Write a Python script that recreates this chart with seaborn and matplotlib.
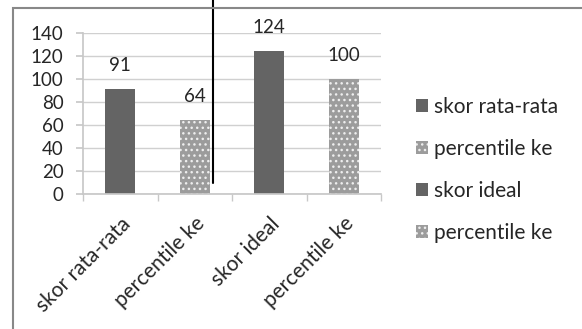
import matplotlib
matplotlib.use("Agg")
import matplotlib.pyplot as plt
import seaborn as sns
import pandas as pd
from matplotlib.patches import Rectangle

categories = ["skor rata-rata", "percentile ke", "skor ideal", "percentile ke"]
values = [91, 64, 124, 100]
bar_colors = ["#646464", "#9c9c9c", "#646464", "#9c9c9c"]
patterned = [False, True, False, True]
yticks = [0, 20, 40, 60, 80, 100, 120, 140]

sns.set_theme(style="white")
plt.rcParams["font.family"] = ["Lato", "DejaVu Sans"]
plt.rcParams["hatch.linewidth"] = 1.0

fig = plt.figure(figsize=(5.82, 3.29), dpi=100)
ax = fig.add_axes([83/582, 1-194/329, (381-83)/582, (194-33)/329])

df = pd.DataFrame({"pos": list(range(len(categories))), "value": values})
sns.barplot(data=df, x="pos", y="value", hue="pos", palette=bar_colors,
            legend=False, width=0.4, ax=ax, saturation=1)

for p, pat in zip(ax.patches, patterned):
    p.set_linewidth(0)
    if pat:
        p.set_hatch("...")
        p.set_edgecolor("#eeeeee")

ax.set_ylim(0, 140)
ax.set_xlim(-0.5, len(categories) - 0.5)
ax.set_yticks(yticks)
ax.set_yticklabels([str(t) for t in yticks], fontsize=13.5)
ax.set_xticks(range(len(categories)))
ax.set_xticklabels(categories, fontsize=15, rotation=45, ha="right",
                   rotation_mode="anchor")
ax.set_xlabel("")
ax.set_ylabel("")
ax.yaxis.grid(True, color="#d0d0d0", linewidth=1)
ax.set_axisbelow(True)
for s in ["top", "right"]:
    ax.spines[s].set_visible(False)
ax.spines["left"].set_color("#c8c8c8")
ax.spines["bottom"].set_color("#c8c8c8")
ax.tick_params(axis="y", length=5, color="#c8c8c8", left=True, pad=9)
ax.tick_params(axis="x", length=0, pad=14)
ax.set_xticks([i - 0.5 for i in range(len(categories) + 1)], minor=True)
ax.tick_params(axis="x", which="minor", length=5, color="#c8c8c8", bottom=True)

for cont in ax.containers:
    ax.bar_label(cont, fmt="%d", padding=11, fontsize=13.5)

# stray vertical line present in the original
ax.axvline(1.24, ymin=0.069, ymax=1.21, color="black", linewidth=1.5, clip_on=False)

leg = fig.legend(ax.patches[:4], categories, loc="center left",
                 bbox_to_anchor=(416/582, 1-170/329), frameon=False,
                 fontsize=15, handlelength=0.58, handleheight=0.58,
                 handletextpad=0.3, labelspacing=1.05, borderpad=0, borderaxespad=0)

frame = Rectangle((13/582, -0.2), 1.2, 0.2 + 1 - 8/329,
                  transform=fig.transFigure, fill=False,
                  edgecolor="#888888", linewidth=1.5, clip_on=False)
fig.patches.append(frame)

fig.savefig("out.png", dpi=100)
